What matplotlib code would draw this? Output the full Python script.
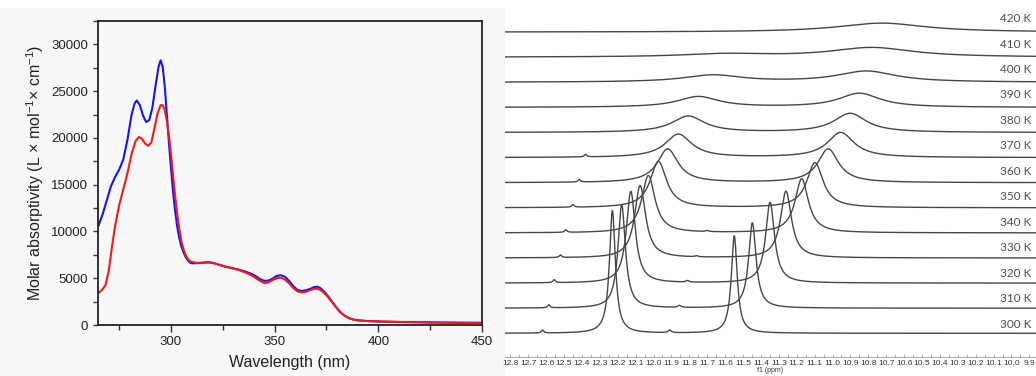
import numpy as np
import matplotlib
matplotlib.use("Agg")
import matplotlib.pyplot as plt
from matplotlib.ticker import MultipleLocator
from matplotlib.patches import Rectangle

# ── UV-vis data (left panel) ────────────────────────────────────────────────
wl_blue = [265, 267, 269, 271, 273, 275, 277, 279, 281, 282.5, 283.5, 285, 286.5,
           288, 289.5, 291, 292.5, 294, 295, 296, 297, 298, 299, 300, 301, 302,
           303, 304, 305, 306, 307, 308, 309, 310, 312, 315, 318, 320, 323, 326,
           330, 333, 336, 339, 341, 343, 345, 347, 349, 351, 353, 355, 357, 359,
           361, 363, 365, 367, 369, 370.5, 372, 374, 376, 378, 380, 382, 384, 386,
           388, 390, 395, 400, 410, 420, 430, 440, 450]
eps_blue = [10600, 11800, 13300, 14800, 15800, 16600, 17700, 19800, 22500, 23700,
            24000, 23500, 22400, 21700, 21900, 23200, 25500, 27600, 28300, 27600,
            25500, 22500, 19500, 16800, 14200, 12200, 10500, 9300, 8400, 7800,
            7300, 6950, 6700, 6600, 6600, 6650, 6700, 6650, 6450, 6250, 6050,
            5900, 5700, 5450, 5200, 4900, 4720, 4750, 4950, 5250, 5320, 5150,
            4700, 4150, 3750, 3630, 3700, 3850, 4050, 4100, 3950, 3550, 3000,
            2400, 1800, 1300, 950, 720, 580, 500, 420, 380, 320, 290, 260, 240, 230]

wl_red = [265, 267, 268.5, 270, 271.5, 273, 275, 277, 279, 281, 283, 284.5, 286,
          287.5, 289, 290.5, 292, 293.5, 295, 296, 297, 298, 299, 300, 301, 302,
          303, 304, 305, 306, 307, 308, 309, 310, 312, 315, 318, 320, 323, 326,
          330, 333, 336, 339, 341, 343, 345, 347, 349, 351, 353, 355, 357, 359,
          361, 363, 365, 367, 369, 370.5, 372, 374, 376, 378, 380, 382, 384, 386,
          388, 390, 395, 400, 410, 420, 430, 440, 450]
eps_red = [3400, 3800, 4300, 5800, 8300, 10500, 12800, 14500, 16200, 18300, 19700,
           20100, 19900, 19400, 19150, 19500, 21000, 22600, 23500, 23500, 23000,
           21800, 20300, 18300, 16000, 13800, 11900, 10300, 9000, 8100, 7500,
           7100, 6850, 6750, 6650, 6650, 6700, 6650, 6450, 6250, 6050, 5850,
           5600, 5300, 5000, 4700, 4480, 4550, 4800, 5000, 5050, 4850, 4450,
           3950, 3600, 3470, 3550, 3720, 3870, 3880, 3750, 3400, 2900, 2350,
           1800, 1300, 950, 720, 580, 500, 420, 380, 320, 290, 260, 240, 230]

# ── VT-NMR peak data (right panel) ──────────────────────────────────────────
temps = [300, 310, 320, 330, 340, 350, 360, 370, 380, 390, 400, 410, 420]
p1_ppm = [12.23, 12.178, 12.127, 12.075, 12.029, 11.973, 11.921, 11.861, 11.806,
          11.75, 11.668, 11.60, 11.55]
p1_height = [122.7, 103.6, 91.7, 72.3, 57.3, 46.3, 33.7, 23.3, 16.3, 10.7, 7.0, 3.0, 0.0]
p2_ppm = [11.549, 11.448, 11.349, 11.26, 11.172, 11.098, 11.024, 10.954, 10.902,
          10.85, 10.81, 10.78, 10.725]
p2_height = [97.3, 85.3, 80.7, 66.7, 54.0, 45.0, 33.7, 25.0, 19.0, 14.0, 11.0, 9.5, 9.0]
hwhm = [0.02, 0.025, 0.03, 0.037, 0.045, 0.055, 0.07, 0.09, 0.11, 0.14, 0.2, 0.28, 0.3]
imp1_ppm = [12.62, 12.585, 12.555, 12.52, 12.49, 12.45, 12.415, 12.38, 12.35, 12.3, 12.3, 12.3, 12.3]
imp1_height = [3.0, 3.0, 3.0, 2.5, 2.5, 2.5, 2.5, 2.5, 0, 0, 0, 0, 0]
imp2_ppm = [11.91, 11.855, 11.81, 11.76, 11.70, 11.65, 11.6, 11.6, 11.6, 11.6, 11.6, 11.6, 11.6]
imp2_height = [2.5, 2.0, 1.5, 1.0, 1.0, 0, 0, 0, 0, 0, 0, 0, 0]

W, H = 1036, 376
plt.rcParams["font.family"] = ["Liberation Sans", "DejaVu Sans"]
plt.rcParams["mathtext.fontset"] = "custom"
plt.rcParams["mathtext.rm"] = "Liberation Sans"
plt.rcParams["mathtext.it"] = "Liberation Sans:italic"
fig = plt.figure(figsize=(W / 100, H / 100), dpi=100)

# light speckled background of the left image
fig.patches.append(Rectangle((0, 0), 505 / W, 368 / H, transform=fig.transFigure,
                             facecolor="#f7f7f7", edgecolor="none", zorder=-5))

# ── left panel ──────────────────────────────────────────────────────────────
ax1 = fig.add_axes([98 / W, (H - 325) / H, (482 - 98) / W, (325 - 21) / H])
ax1.set_zorder(2)
ax1.set_facecolor("#f8f8f8")
ax1.plot(wl_blue, eps_blue, color="#1414ff", lw=1.5)
ax1.plot(wl_red, eps_red, color="#ff1414", lw=1.5)
ax1.set_xlim(264.8, 450)
ax1.set_ylim(0, 32500)
ax1.xaxis.set_major_locator(MultipleLocator(50))
ax1.xaxis.set_minor_locator(MultipleLocator(25))
ax1.yaxis.set_major_locator(MultipleLocator(5000))
ax1.yaxis.set_minor_locator(MultipleLocator(2500))
ax1.tick_params(which="both", direction="out", length=3.5, width=1, color="#333333",
                labelsize=9.5, labelcolor="#222222", top=False, right=False)
ax1.tick_params(axis="x", which="major", length=5, pad=3)
for s in ax1.spines.values():
    s.set_linewidth(1.3)
    s.set_color("#222222")
ax1.set_xlabel("Wavelength (nm)", fontsize=11.5, color="#222222", labelpad=5)
ax1.set_ylabel("Molar absorptivity (L × mol$^{\\mathrm{-1}}$× cm$^{\\mathrm{-1}}$)",
               fontsize=11.5, color="#222222", labelpad=4)

# ── right panel: stacked NMR traces ────────────────────────────────────────
ax2 = fig.add_axes([505 / W, (H - 357) / H, (W - 505) / W, 357 / H])
ax2.set_facecolor("none")
ax2.set_xlim(12.830, 9.863)
ax2.set_ylim(0, 357)
ppm = np.linspace(12.83, 9.86, 3000)

def lorentz(x, x0, h, w):
    return h / (1 + ((x - x0) / w) ** 2)

for i, t in enumerate(temps):
    base = 23.7 + 25.1 * i
    y = (base
         + lorentz(ppm, p1_ppm[i], p1_height[i], hwhm[i])
         + lorentz(ppm, p2_ppm[i], p2_height[i], hwhm[i])
         + lorentz(ppm, imp1_ppm[i], imp1_height[i], 0.008)
         + lorentz(ppm, imp2_ppm[i], imp2_height[i], 0.01))
    ax2.plot(ppm, y, color="#474747", lw=1.0)
    ax2.text(1031 / W, 1 - (324 - 25.45 * i) / H, f"{t} K", transform=fig.transFigure,
             ha="right", va="center", fontsize=8.5, color="#505050",
             family=["Lato", "DejaVu Sans"])

for s in ["left", "right", "top"]:
    ax2.spines[s].set_visible(False)
ax2.spines["bottom"].set_color("#9a9a9a")
ax2.spines["bottom"].set_linewidth(0.6)
ax2.set_yticks([])
ax2.xaxis.set_major_locator(MultipleLocator(0.1))
ax2.xaxis.set_minor_locator(MultipleLocator(0.05))
ax2.xaxis.set_major_formatter(plt.FuncFormatter(lambda v, p: f"{v:.1f}"))
ax2.tick_params(axis="x", which="both", direction="in", length=2, width=0.5,
                color="#9a9a9a", labelsize=6.0, labelcolor="#333333", pad=2)
for lab in ax2.get_xticklabels():
    lab.set_family(["Liberation Sans Narrow", "Liberation Sans", "DejaVu Sans"])
ax2.set_xlabel("f1 (ppm)", fontsize=5.0, color="#333333", labelpad=0.5,
               family=["Liberation Sans Narrow", "Liberation Sans"])

fig.savefig("out.png", dpi=100)
